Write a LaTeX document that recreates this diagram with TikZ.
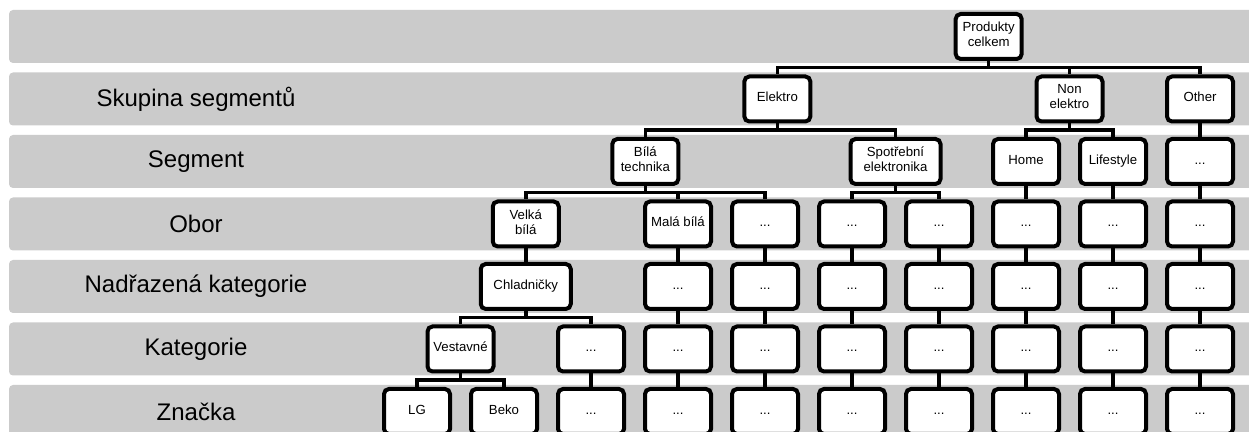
\documentclass[tikz,border=0pt]{standalone}
\usepackage{fontspec}
\setmainfont{Liberation Sans}
\usetikzlibrary{positioning}
\definecolor{bandgray}{RGB}{203,203,203}

\begin{document}
\begin{tikzpicture}[x=0.5pt,y=-0.5pt,on grid,node distance=31.25pt and 43.5pt,
	box/.style={draw,line width=2pt,rounded corners=2.5pt,fill=white,minimum width=33pt,minimum height=22.5pt,inner sep=1pt,align=center,font=\fontsize{6.6}{7.4}\selectfont,execute at begin node=\strut,execute at end node=\strut},
	wide box/.style={box,minimum width=45pt},
	level/.style={font=\fontsize{12}{14}\selectfont},
	link/.style={line width=1.75pt},
	elbow/.style={to path={(\tikztostart.south) -- ++(0,-3.25pt) -| (\tikztotarget.north)}}]
	\clip (0,0) rectangle (1249,432);
	% bands
	\fill[bandgray,rounded corners=2pt] (9,10) rectangle (1262,63);
	\fill[bandgray,rounded corners=2pt] (9,72.5) rectangle (1262,125.5);
	\fill[bandgray,rounded corners=2pt] (9,135) rectangle (1262,188);
	\fill[bandgray,rounded corners=2pt] (9,197.5) rectangle (1262,250.5);
	\fill[bandgray,rounded corners=2pt] (9,260) rectangle (1262,313);
	\fill[bandgray,rounded corners=2pt] (9,322.5) rectangle (1262,375.5);
	\fill[bandgray,rounded corners=2pt] (9,385) rectangle (1262,438);
	% levels
	\node[level] (l1) at (196,99) {Skupina segmentů};
	\node[level] (l2) at (196,161.5) {Segment};
	\node[level] (l3) at (196,224) {Obor};
	\node[level] (l4) at (196,286.5) {Nadřazená kategorie};
	\node[level] (l5) at (196,349) {Kategorie};
	\node[level] (l6) at (196,411.5) {Značka};
	% Znacka
	\node[box] (lg) at (417,411.5) {LG};
	\node[box] (beko) [right=of lg] {Beko};
	\node[box] (z3) [right=of beko] {...};
	\node[box] (z4) [right=of z3] {...};
	\node[box] (z5) [right=of z4] {...};
	\node[box] (z6) [right=of z5] {...};
	\node[box] (z7) [right=of z6] {...};
	\node[box] (z8) [right=of z7] {...};
	\node[box] (z9) [right=of z8] {...};
	\node[box] (z10) [right=of z9] {...};
	% Kategorie
	\node[box] (vest) [above right=31.25pt and 21.75pt of lg] {Vestavné};
	\node[box] (k3) [above=of z3] {...};
	\node[box] (k4) [above=of z4] {...};
	\node[box] (k5) [above=of z5] {...};
	\node[box] (k6) [above=of z6] {...};
	\node[box] (k7) [above=of z7] {...};
	\node[box] (k8) [above=of z8] {...};
	\node[box] (k9) [above=of z9] {...};
	\node[box] (k10) [above=of z10] {...};
	% Nadrazena kategorie
	\node[wide box] (chlad) [above right=31.25pt and 32.625pt of vest] {Chladničky};
	\node[box] (n4) [above=of k4] {...};
	\node[box] (n5) [above=of k5] {...};
	\node[box] (n6) [above=of k6] {...};
	\node[box] (n7) [above=of k7] {...};
	\node[box] (n8) [above=of k8] {...};
	\node[box] (n9) [above=of k9] {...};
	\node[box] (n10) [above=of k10] {...};
	% Obor
	\node[box] (velka) [above=of chlad] {Velká\\bílá};
	\node[box] (mala) [above=of n4] {Malá bílá};
	\node[box] (o5) [above=of n5] {...};
	\node[box] (o6) [above=of n6] {...};
	\node[box] (o7) [above=of n7] {...};
	\node[box] (o8) [above=of n8] {...};
	\node[box] (o9) [above=of n9] {...};
	\node[box] (o10) [above=of n10] {...};
	% Segment
	\node[box] (bila) [above right=31.25pt and 59.8pt of velka] {Bílá\\technika};
	\node[wide box] (spotr) [above right=31.25pt and 21.75pt of o6] {Spotřební\\elektronika};
	\node[box] (home) [above=of o8] {Home};
	\node[box] (life) [above=of o9] {Lifestyle};
	\node[box] (s10) [above=of o10] {...};
	% Skupina segmentu
	\node[box] (elektro) [above right=31.25pt and 66pt of bila] {Elektro};
	\node[box] (nonel) [above right=31.25pt and 21.75pt of home] {Non\\elektro};
	\node[box] (other) [above=of s10] {Other};
	\node[box] (prod) [above left=31.25pt and 40.4pt of nonel] {Produkty\\celkem};
	\path[every edge/.style={draw,link,elbow}]
		(prod) edge (elektro)
			edge (nonel)
			edge (other)
		(elektro) edge (bila)
			edge (spotr)
		(nonel) edge (home)
			edge (life)
		(other) edge (s10)
		(bila) edge (velka)
			edge (mala)
			edge (o5)
		(spotr) edge (o6)
			edge (o7)
		(home) edge (o8)
		(life) edge (o9)
		(s10) edge (o10)
		(velka) edge (chlad)
		(mala) edge (n4)
		(o5) edge (n5)
		(o6) edge (n6)
		(o7) edge (n7)
		(o8) edge (n8)
		(o9) edge (n9)
		(o10) edge (n10)
		(chlad) edge (vest)
			edge (k3)
		(n4) edge (k4)
		(n5) edge (k5)
		(n6) edge (k6)
		(n7) edge (k7)
		(n8) edge (k8)
		(n9) edge (k9)
		(n10) edge (k10)
		(vest) edge (lg)
			edge (beko)
		(k3) edge (z3)
		(k4) edge (z4)
		(k5) edge (z5)
		(k6) edge (z6)
		(k7) edge (z7)
		(k8) edge (z8)
		(k9) edge (z9)
		(k10) edge (z10);
\end{tikzpicture}
\end{document}
